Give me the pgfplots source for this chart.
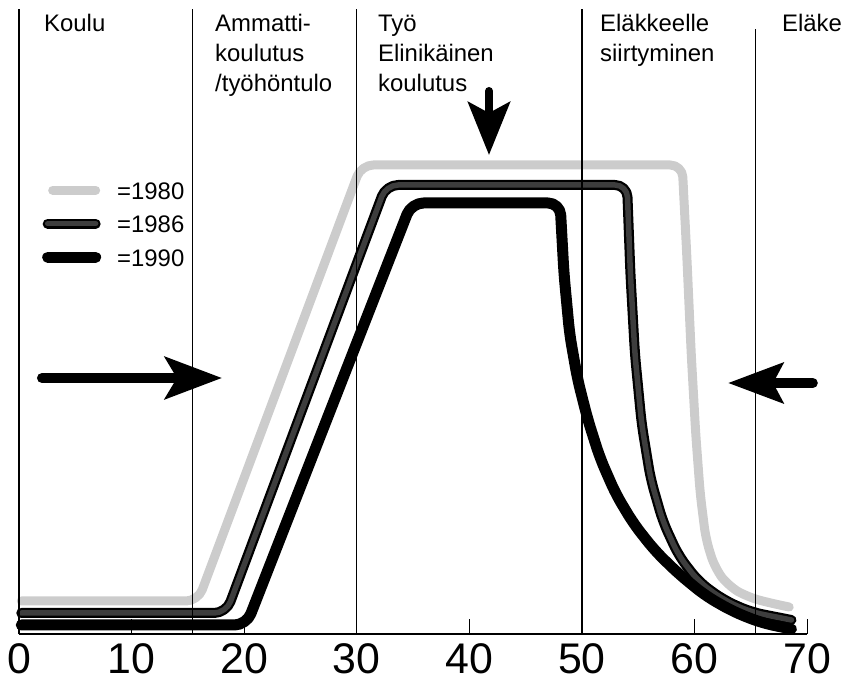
\documentclass[border=0pt]{standalone}
\usepackage{fontspec}
\setmainfont{Liberation Sans}
\usepackage{pgfplots}
\usepackage{pgfplotstable}
\pgfplotsset{compat=1.18}
\usetikzlibrary{arrows.meta}

\definecolor{c1980}{rgb}{0.80,0.80,0.80}
\definecolor{c1986}{rgb}{0.24,0.24,0.24}

% ika / osuus (px-asteikko /10)
\pgfplotstableread{
x y
0.2 3.3
15.9 3.3
30.4 46.9
58.9 46.9
59.3 38.0
59.7 28.0
60.1 20.0
60.5 14.0
61.0 9.5
61.8 6.6
63.0 4.8
64.7 3.7
66.7 3.1
68.4 2.7
}\dataEighty

\pgfplotstableread{
x y
0.2 2.1
18.4 2.1
32.6 44.9
54.0 44.9
54.3 36.0
54.7 28.0
55.3 21.0
56.1 15.5
57.2 11.2
58.6 7.8
60.4 5.2
62.6 3.4
65.0 2.2
68.6 1.4
}\dataEightySix

\pgfplotstableread{
x y
0.2 0.9
20.2 0.9
34.85 43.1
48.05 43.1
48.4 36.0
48.9 30.0
49.6 25.5
50.5 21.5
51.6 17.6
53.0 14.0
54.6 11.0
56.5 8.3
58.6 6.0
61.0 3.8
63.5 2.2
66.0 1.1
68.6 0.5
}\dataNinety

\tikzset{lbl/.style={anchor=base west, inner sep=0pt, font=\fontsize{24}{30}\selectfont}}

\begin{document}
\begin{tikzpicture}
\useasboundingbox (-19bp,-49bp) rectangle (824bp,634bp);
\begin{axis}[anchor=origin, x=11.26bp, y=10bp,
    xmin=0, xmax=70, ymin=0, ymax=62.5, clip=false,
    axis x line*=bottom, axis y line=none,
    xtick={0,10,...,70}, ytick=\empty,
    xtick align=inside, major tick length=15bp,
    every tick/.style={black, line width=1.2bp},
    axis line style={line width=1.2bp},
    xticklabel style={font=\fontsize{43}{43}\selectfont, inner sep=0pt, yshift=-9bp},
    /pgf/number format/assume math mode=true,
    legend cell align=left,
    legend style={draw=none, fill=none, at={(axis cs:2.04,45.3)}, anchor=north west,
      inner sep=0pt, row sep=15.5bp, column sep=16bp,
      font=\fontsize{24}{24}\selectfont,
      nodes={inner sep=0pt, text height=18bp, text depth=0pt}},
  ]
  % kayrat
  \addplot[forget plot, c1980, line width=9bp, line cap=round, line join=round, rounded corners=12bp] table {\dataEighty};
  \addplot[forget plot, black, line width=10bp, line cap=round, line join=round, rounded corners=12bp] table {\dataEightySix};
  \addplot[forget plot, c1986, line width=5.5bp, line cap=round, line join=round, rounded corners=12bp] table {\dataEightySix};
  \addplot[forget plot, black, line width=11bp, line cap=round, line join=round, rounded corners=12bp] table {\dataNinety};

  % vaiheiden rajat
  \addplot[forget plot, black, line width=1.2bp] coordinates {(0,0) (0,62.5)};
  \addplot[forget plot, black, line width=1.2bp] coordinates {(15.4,0) (15.4,62.5)};
  \addplot[forget plot, black, line width=1.2bp] coordinates {(30,0) (30,62.5)};
  \addplot[forget plot, black, line width=1.2bp] coordinates {(50,0) (50,62.5)};
  \addplot[forget plot, black, line width=1.2bp] coordinates {(65.4,0) (65.4,60.5)};

  % selite
  \addlegendimage{legend image code/.code={\draw[c1980, line width=9bp, line cap=round] (5bp,0bp) -- (48bp,0bp);}}
  \addlegendentry{=1980}
  \addlegendimage{legend image code/.code={\draw[black, line width=10bp, line cap=round] (0bp,0bp) -- (48bp,0bp); \draw[c1986, line width=5.5bp, line cap=round] (0bp,0bp) -- (48bp,0bp);}}
  \addlegendentry{=1986}
  \addlegendimage{legend image code/.code={\draw[black, line width=11bp, line cap=round] (0bp,0bp) -- (48bp,0bp);}}
  \addlegendentry{=1990}

  % nuolet
  \draw[line width=10bp, line cap=round, -{Stealth[length=57bp, width=42bp, inset=12bp]}] (axis cs:2.04,25.6) -- (axis cs:18.03,25.6);
  \draw[line width=10bp, line cap=round, -{Stealth[length=55bp, width=40bp, inset=10bp]}] (axis cs:70.5,25.1) -- (axis cs:62.97,25.1);
  \draw[line width=8bp, line cap=round, -{Stealth[length=53bp, width=42bp, inset=11bp]}] (axis cs:41.74,54.3) -- (axis cs:41.74,47.9);

  % otsikot
  \node[lbl] at (axis cs:2.22,60.2) {Koulu};
  \node[lbl] at (axis cs:17.41,60.2) {Ammatti-};
  \node[lbl] at (axis cs:17.41,57.2) {koulutus};
  \node[lbl] at (axis cs:17.41,54.2) {/työhöntulo};
  \node[lbl] at (axis cs:31.88,60.2) {Työ};
  \node[lbl] at (axis cs:31.88,57.2) {Elinikäinen};
  \node[lbl] at (axis cs:31.88,54.2) {koulutus};
  \node[lbl] at (axis cs:51.6,60.2) {Eläkkeelle};
  \node[lbl] at (axis cs:51.6,57.2) {siirtyminen};
  \node[lbl] at (axis cs:67.76,60.2) {Eläke};
\end{axis}
\end{tikzpicture}
\end{document}
